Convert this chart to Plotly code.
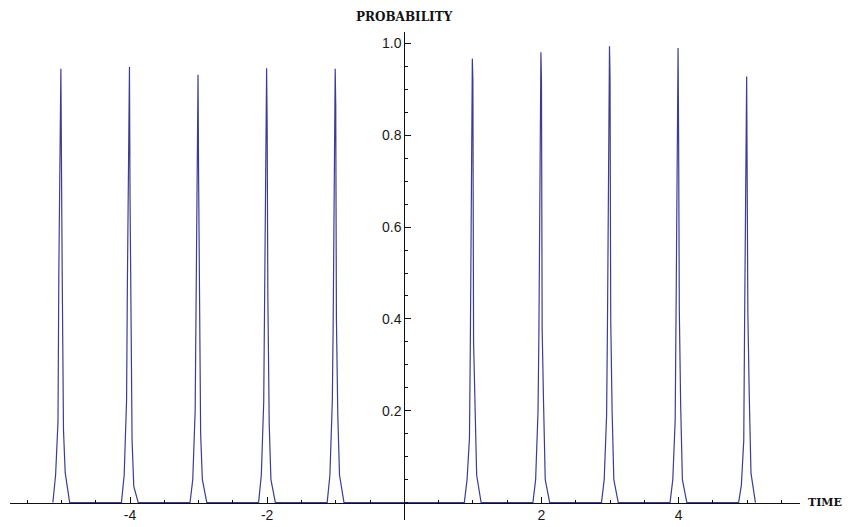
import plotly.graph_objects as go

# ---- data ----
peak_centers = [-5, -4, -3, -2, -1, 1, 2, 3, 4, 5]
# sample offsets around each peak centre (time units)
offsets = [-0.125, -0.085, -0.05, -0.038, -0.008, 0.0, 0.01, 0.03, 0.055, 0.12]
# per-peak sampled probabilities:
# [base, left1, left2, left3, top, upper, lower, right2, right1, base]
peak_values = {
    -5: [0.0, 0.06, 0.176, 0.50, 0.945, 0.590, 0.520, 0.158, 0.065, 0.0],
    -4: [0.0, 0.06, 0.223, 0.48, 0.949, 0.673, 0.499, 0.136, 0.035, 0.0],
    -3: [0.0, 0.05, 0.200, 0.42, 0.932, 0.713, 0.440, 0.150, 0.050, 0.0],
    -2: [0.0, 0.06, 0.220, 0.43, 0.946, 0.822, 0.450, 0.170, 0.050, 0.0],
    -1: [0.0, 0.06, 0.220, 0.38, 0.945, 0.865, 0.400, 0.190, 0.060, 0.0],
    1:  [0.0, 0.05, 0.140, 0.33, 0.967, 0.918, 0.350, 0.200, 0.060, 0.0],
    2:  [0.0, 0.05, 0.200, 0.36, 0.981, 0.917, 0.380, 0.220, 0.050, 0.0],
    3:  [0.0, 0.05, 0.190, 0.38, 0.994, 0.925, 0.400, 0.200, 0.050, 0.0],
    4:  [0.0, 0.05, 0.180, 0.40, 0.990, 0.793, 0.420, 0.210, 0.050, 0.0],
    5:  [0.0, 0.038, 0.136, 0.39, 0.928, 0.695, 0.410, 0.234, 0.064, 0.0],
}
x_ticks = [-4, -2, 2, 4]
y_ticks = [0.2, 0.4, 0.6, 0.8, 1.0]
y_ticktext = ["0.2", "0.4", "0.6", "0.8", "1.0"]
x_title = "TIME"
y_title = "PROBABILITY"

x_range = [-5.75, 5.77]
y_range = [-0.038, 1.025]

# ---- build the polyline ----
xs, ys = [], []
for c in peak_centers:
    for o, v in zip(offsets, peak_values[c]):
        xs.append(c + o)
        ys.append(v)

line_color = "#3c3c96"
axis_color = "#111111"

fig = go.Figure()
fig.add_trace(go.Scatter(x=xs, y=ys, mode="lines",
                         line=dict(color=line_color, width=1.2),
                         hoverinfo="skip", showlegend=False))

x_pos = (0 - y_range[0]) / (y_range[1] - y_range[0])
y_pos = (0 - x_range[0]) / (x_range[1] - x_range[0])

tick_font = dict(family="Liberation Sans, Arial, sans-serif", size=14, color="#1a1a1a")
title_font = dict(family="DejaVu Serif, Liberation Serif, serif", size=12, color="#111")
time_font = dict(family="DejaVu Serif, Liberation Serif, serif", size=11, color="#111")

# page body has an 8px default margin; figure is sized to fit inside the window
fig.update_layout(
    width=843, height=519,
    margin=dict(l=2, r=51, t=24, b=7),
    paper_bgcolor="white", plot_bgcolor="white",
    xaxis=dict(
        range=x_range, anchor="free", position=x_pos, automargin=False,
        showgrid=False, zeroline=False,
        showline=True, linecolor=axis_color, linewidth=1,
        tickmode="array", tickvals=x_ticks, ticktext=[str(v) for v in x_ticks],
        ticks="inside", ticklen=6, tickwidth=1, tickcolor=axis_color,
        tickfont=tick_font,
        minor=dict(tickmode="linear", tick0=0, dtick=0.5, ticks="inside",
                   ticklen=3, tickwidth=1, tickcolor=axis_color, showgrid=False),
    ),
    yaxis=dict(
        range=y_range, anchor="free", position=y_pos, automargin=False,
        showgrid=False, zeroline=False,
        showline=True, linecolor=axis_color, linewidth=1,
        tickmode="array", tickvals=y_ticks, ticktext=y_ticktext,
        ticks="inside", ticklen=6, tickwidth=1, tickcolor=axis_color,
        tickfont=tick_font,
        minor=dict(tickmode="linear", tick0=0, dtick=0.05, ticks="inside",
                   ticklen=3, tickwidth=1, tickcolor=axis_color, showgrid=False),
    ),
    annotations=[
        dict(text="<b>" + y_title + "</b>", x=0, y=y_range[1], xref="x", yref="y",
             xanchor="center", yanchor="bottom", yshift=6, showarrow=False,
             font=title_font),
        dict(text="<b>" + x_title + "</b>", x=x_range[1], y=0, xref="x", yref="y",
             xanchor="left", yanchor="middle", xshift=6, showarrow=False,
             font=time_font),
    ],
)

fig.write_html("out.html")
